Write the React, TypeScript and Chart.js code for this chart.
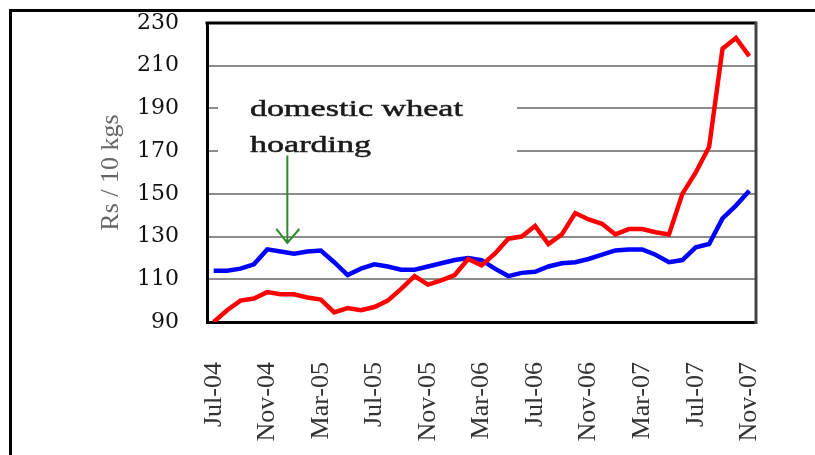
import React, { useEffect, useRef } from 'react';
import { Chart, registerables } from 'chart.js';

Chart.register(...registerables);

const months = [
  'Jul-04', 'Aug-04', 'Sep-04', 'Oct-04', 'Nov-04', 'Dec-04',
  'Jan-05', 'Feb-05', 'Mar-05', 'Apr-05', 'May-05', 'Jun-05', 'Jul-05', 'Aug-05', 'Sep-05', 'Oct-05', 'Nov-05', 'Dec-05',
  'Jan-06', 'Feb-06', 'Mar-06', 'Apr-06', 'May-06', 'Jun-06', 'Jul-06', 'Aug-06', 'Sep-06', 'Oct-06', 'Nov-06', 'Dec-06',
  'Jan-07', 'Feb-07', 'Mar-07', 'Apr-07', 'May-07', 'Jun-07', 'Jul-07', 'Aug-07', 'Sep-07', 'Oct-07', 'Nov-07',
];

const redSeries = [
  90, 95.5, 100, 101, 104, 103, 103, 101.5, 100.5, 94.5, 96.5, 95.5, 97, 100, 105.5, 111.5, 107.5, 109.5, 112, 119.5,
  116.5, 122, 129, 130, 135, 126.5, 131, 141, 138, 136, 131, 133.5, 133.5, 132, 131, 150, 160, 172, 218, 223, 214.5,
];

const blueSeries = [
  114, 114, 115, 117, 124, 123, 122, 123, 123.5, 118, 112, 115, 117, 116, 114.5, 114.5, 116, 117.5, 119, 120,
  119, 115, 111.5, 113, 113.5, 116, 117.5, 118, 119.5, 121.5, 123.5, 124, 124, 121.5, 118, 119, 125, 126.5, 138.5, 144.5, 151.5,
];

const yTicks = { min: 90, max: 230, step: 20 };
const yTitle = 'Rs / 10 kgs';
const noteLines = ['domestic wheat', 'hoarding'];
const arrowAt = { index: 5.5, from: 168, to: 127 };

const decor = {
  id: 'decor',
  beforeDraw(chart: any) {
    const ctx = chart.ctx;
    ctx.save();
    ctx.fillStyle = '#ffffff';
    ctx.fillRect(0, 0, chart.width, chart.height);
    ctx.fillStyle = '#000000';
    ctx.fillRect(9, 9, chart.width - 9, 3);
    ctx.fillRect(9, 9, 3, chart.height - 9);
    ctx.restore();
  },
  beforeDatasetsDraw(chart: any) {
    const { ctx, chartArea: ca, scales } = chart;
    ctx.save();
    ctx.fillStyle = '#ffffff';
    ctx.fillRect(ca.left + 11, ca.top + 67, 299, 72);
    ctx.lineWidth = 3;
    ctx.strokeStyle = '#000000';
    ctx.beginPath();
    ctx.moveTo(ca.left - 1.5, ca.top);
    ctx.lineTo(ca.right, ca.top);
    ctx.stroke();
    ctx.strokeStyle = '#444444';
    ctx.beginPath();
    ctx.moveTo(ca.right, ca.top - 1.5);
    ctx.lineTo(ca.right, ca.bottom + 2);
    ctx.stroke();
    ctx.fillStyle = '#1a1a1a';
    ctx.strokeStyle = '#1a1a1a';
    ctx.lineWidth = 0.5;
    ctx.font = '24px "Liberation Serif"';
    ctx.textBaseline = 'alphabetic';
    ctx.textAlign = 'left';
    const baselines = [ca.top + 92.5, ca.top + 129];
    noteLines.forEach((t, i) => {
      ctx.save();
      ctx.translate(ca.left + 43, baselines[i]);
      ctx.scale(1.42, 1);
      ctx.fillText(t, 0, 0);
      ctx.strokeText(t, 0, 0);
      ctx.restore();
    });
    const ax = scales.x.getPixelForValue(arrowAt.index);
    const y0 = scales.y.getPixelForValue(arrowAt.from);
    const y1 = scales.y.getPixelForValue(arrowAt.to);
    ctx.strokeStyle = '#2e8b2e';
    ctx.lineWidth = 2;
    ctx.beginPath();
    ctx.moveTo(ax, y0);
    ctx.lineTo(ax, y1);
    ctx.moveTo(ax - 11, y1 - 14);
    ctx.lineTo(ax, y1);
    ctx.lineTo(ax + 12, y1 - 14);
    ctx.stroke();
    ctx.restore();
  },
};

export default function App() {
  const ref = useRef<HTMLCanvasElement | null>(null);

  useEffect(() => {
    if (!ref.current) return;
    const chart = new Chart(ref.current, {
      type: 'line',
      data: {
        labels: months,
        datasets: [
          {
            label: 'Red',
            data: redSeries,
            borderColor: '#ff0000',
            borderWidth: 4.5,
            pointRadius: 0,
            tension: 0,
            fill: false,
          },
          {
            label: 'Blue',
            data: blueSeries,
            borderColor: '#0000ff',
            borderWidth: 4.5,
            pointRadius: 0,
            tension: 0,
            fill: false,
          },
        ],
      },
      options: {
        animation: false,
        responsive: true,
        maintainAspectRatio: false,
        layout: { padding: { left: 90, right: 59, top: 23, bottom: 0 } },
        plugins: { legend: { display: false }, tooltip: { enabled: false } },
        events: [],
        scales: {
          x: {
            offset: true,
            grid: { display: false, drawTicks: false },
            border: { display: true, color: '#000000', width: 3 },
            ticks: {
              autoSkip: false,
              maxRotation: 90,
              minRotation: 90,
              padding: 40,
              color: '#333333',
              font: { family: '"Liberation Serif"', size: 26 },
              callback: (_v: any, i: number) => (i % 4 === 0 ? months[i] : ''),
            },
            afterFit: (s: any) => {
              s.height = 133;
              s.paddingLeft = 0;
              s.paddingRight = 0;
            },
          },
          y: {
            min: yTicks.min,
            max: yTicks.max,
            grid: {
              drawTicks: false,
              lineWidth: 2,
              color: (c: any) =>
                c.tick && (c.tick.value === yTicks.min || c.tick.value === yTicks.max) ? 'rgba(0,0,0,0)' : '#8c8c8c',
            },
            border: { display: true, color: '#000000', width: 3 },
            ticks: {
              stepSize: yTicks.step,
              padding: 28,
              color: '#111111',
              font: { family: '"DejaVu Serif"', size: 22 },
            },
            title: {
              display: true,
              text: yTitle,
              color: '#666666',
              font: { family: '"Liberation Serif"', size: 26 },
              padding: { top: 6, bottom: 0 },
            },
            afterFit: (s: any) => {
              s.width = 117;
              s.paddingTop = 0;
              s.paddingBottom = 0;
            },
          },
        },
      },
      plugins: [decor],
    });
    return () => chart.destroy();
  }, []);

  return (
    <div style={{ position: 'absolute', left: 0, top: 0, width: 815, height: 455 }}>
      <canvas ref={ref} />
    </div>
  );
}
